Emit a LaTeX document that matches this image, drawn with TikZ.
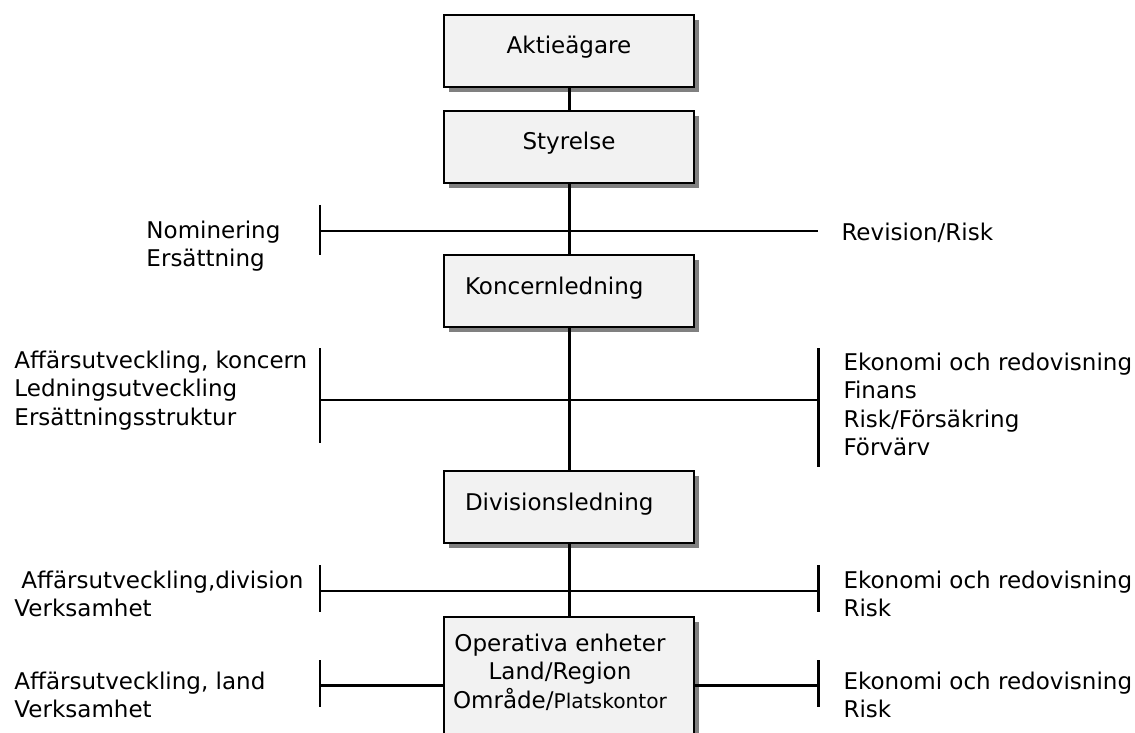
\documentclass[tikz,border=0pt]{standalone}
\usepackage{fontspec}
\setmainfont{DejaVu Sans}
\usetikzlibrary{shadows}

\begin{document}
\begin{tikzpicture}[x=.02cm,y=-.02cm,line width=1.7pt,
  font=\fontsize{13.1}{16.2}\selectfont,
  box/.style={draw,line width=1.1pt,fill=black!5,minimum width=5cm,minimum height=1.44cm,
    text height=.34cm,text depth=.22cm,
    drop shadow={shadow xshift=.1cm,shadow yshift=-.1cm,fill=black!50,opacity=1}},
  lbox/.style={box,align=left,text width=4.16cm,inner xsep=.42cm},
  grp/.style={anchor=north west,align=left,inner sep=0pt}]
  \useasboundingbox (0,0) rectangle (1135,733);
  \node[box] (akt) at (569,51) {Aktieägare};
  \node[box] (sty) at (569,147) {Styrelse};
  \node[lbox] (kon) at (569,291) {Koncernledning};
  \node[lbox] (div) at (569,507) {Divisionsledning};
  \node[box,minimum height=2.6cm,anchor=north] (ope) at (569,616) {};
  \node[anchor=north,align=center,inner sep=0pt] (opetxt) at (560,632.5)
    {Operativa enheter\\Land/Region\\Område/{\fontsize{11.5}{16.2}\selectfont Platskontor}};

  \coordinate (b1l) at (320,231); \coordinate (b1r) at (818,231);
  \coordinate (b2l) at (320,400); \coordinate (b2r) at (818,400);
  \coordinate (b3l) at (320,591); \coordinate (b3r) at (818,591);
  \coordinate (b4l) at (320,685); \coordinate (b4r) at (818,685);

  \draw (akt) -- (sty);
  \draw (sty) -- (kon);
  \draw (kon) -- (div);
  \draw (div) -- (ope);
  \draw (b1l) -- (b1r);
  \draw (b1l) ++(0,-26) -- ++(0,50);
  \draw (b2l) -- (b2r);
  \draw (b2l) ++(0,-52) -- ++(0,95);
  \draw (b2r) ++(0,-52) -- ++(0,119);
  \draw (b3l) -- (b3r);
  \draw (b3l) ++(0,-26) -- ++(0,47);
  \draw (b3r) ++(0,-26) -- ++(0,47);
  \draw (b4l) -- (b4l -| ope.west);
  \draw (b4r -| ope.east) -- (b4r);
  \draw (b4l) ++(0,-25) -- ++(0,47);
  \draw (b4r) ++(0,-25) -- ++(0,47);

  \node[grp] (nom) at (145,219.5) {Nominering\\Ersättning};
  \node[grp] (rev) at (840,221.5) {Revision/Risk};
  \node[grp] (kl) at (13,349.5) {Affärsutveckling, koncern\\Ledningsutveckling\\Ersättningsstruktur};
  \node[grp] (kr) at (842,351.5) {Ekonomi och redovisning\\Finans\\Risk/Försäkring\\Förvärv};
  \node[grp] (dl) at (13,569.5) {\hspace*{.14cm}Affärsutveckling,division\\Verksamhet};
  \node[grp] (dr) at (842,569.5) {Ekonomi och redovisning\\Risk};
  \node[grp] (ol) at (13,670.5) {Affärsutveckling, land\\Verksamhet};
  \node[grp] (or) at (842,670.5) {Ekonomi och redovisning\\Risk};
\end{tikzpicture}
\end{document}
